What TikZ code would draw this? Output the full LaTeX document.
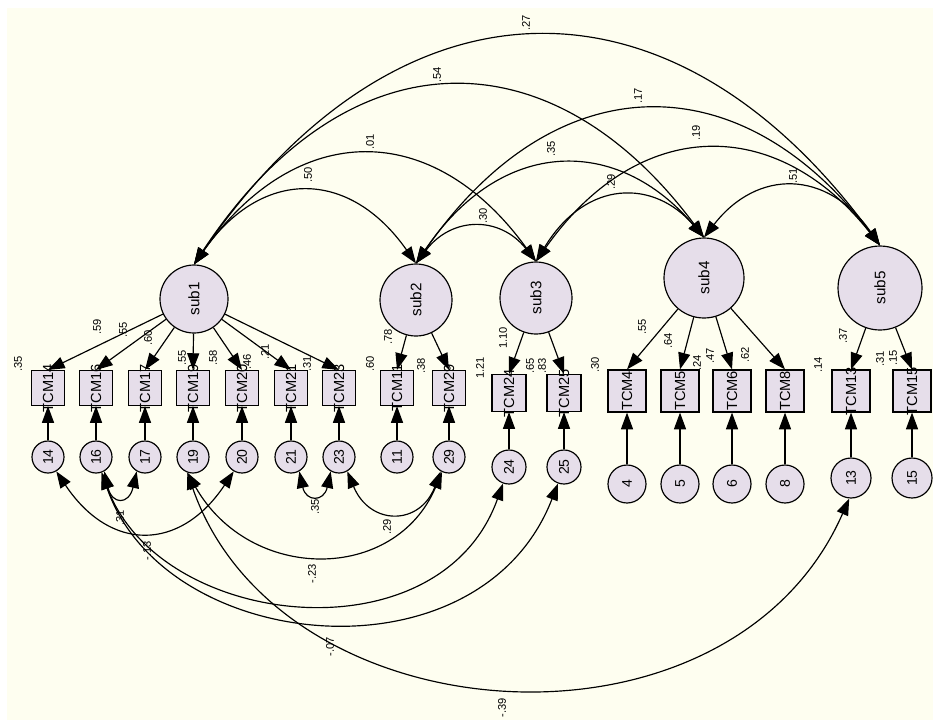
\documentclass[tikz,border=0pt]{standalone}
\usepackage{fontspec}
\setmainfont{Liberation Sans}
\usetikzlibrary{arrows.meta}

\definecolor{paper}{HTML}{FEFEF0}
\definecolor{lilac}{HTML}{E6DEEA}
\newcommand{\up}[1]{\rotatebox{90}{#1}}

\tikzset{
  lat/.style={circle,draw,fill=lilac,inner sep=0pt,font=\fontsize{13}{14}\selectfont},
  err/.style={circle,draw,fill=lilac,inner sep=0pt,minimum size=0.96cm,font=\fontsize{12}{13}\selectfont},
  obs/.style={rectangle,draw,fill=lilac,inner sep=0pt,minimum width=0.99cm,minimum height=1.05cm,font=\fontsize{12.5}{13}\selectfont},
  est/.style={font=\fontsize{9.5}{10}\selectfont,rotate=90,inner sep=0pt},
}

\begin{document}
\begin{tikzpicture}[x=0.03cm,y=-0.03cm,line width=1pt,>={Triangle[length=5mm,width=3.6mm]}]
  \fill[white] (0,0) rectangle (933,720);
  \fill[paper] (7,8) rectangle (933,720);
  \useasboundingbox (0,0) rectangle (933,720);

  % latent variables
  \node[lat,minimum size=2.04cm] (s1) at (194,299) {\up{sub1}};
  \node[lat,minimum size=2.16cm] (s2) at (416,300) {\up{sub2}};
  \node[lat,minimum size=2.16cm] (s3) at (536,298) {\up{sub3}};
  \node[lat,minimum size=2.4cm] (s4) at (704,278) {\up{sub4}};
  \node[lat,minimum size=2.52cm] (s5) at (880,288) {\up{sub5}};

  % observed variables and their errors
  \foreach \i/\x in {14/48,16/96,17/145,19/193,20/242,21/291,23/339,11/397,29/449} {
    \node[obs] (o\i) at (\x,388) {\up{\makebox[0pt]{TCM\i}}};
    \node[err] (e\i) at (\x,457) {\up{\i}};
  }
  \foreach \i/\x in {24/509,25/564} {
    \node[obs,minimum width=1.02cm,minimum height=1.11cm] (o\i) at (\x,393) {\up{\makebox[0pt]{TCM\i}}};
    \node[err,minimum size=1.02cm] (e\i) at (\x,467) {\up{\i}};
  }
  \foreach \i/\x in {4/627,5/680,6/732,8/785} {
    \node[obs,minimum width=1.14cm,minimum height=1.26cm] (o\i) at (\x,391) {\up{\makebox[0pt]{TCM\i}}};
    \node[err,minimum size=1.14cm] (e\i) at (\x,484) {\up{\i}};
  }
  \foreach \i/\x in {13/851,15/912} {
    \node[obs,minimum width=1.14cm,minimum height=1.26cm] (o\i) at (\x,391) {\up{\makebox[0pt]{TCM\i}}};
    \node[err,minimum size=1.2cm] (e\i) at (\x,478) {\up{\i}};
  }

  % loadings
  \foreach \i in {14,16,17,19,20,21,23} \draw[->] (s1) -- (o\i.north);
  \foreach \i in {11,29} \draw[->] (s2) -- (o\i.north);
  \foreach \i in {24,25} \draw[->] (s3) -- (o\i.north);
  \foreach \i in {4,5,6,8} \draw[->] (s4) -- (o\i.north);
  \foreach \i in {13,15} \draw[->] (s5) -- (o\i.north);
  \foreach \i in {14,16,17,19,20,21,23,11,29,24,25,4,5,6,8,13,15}
    \draw[->] (e\i) -- (o\i.south);

  % estimates on loadings and items
  \foreach \v/\x/\y in {.35/18/364, .59/97/327, .55/123/330, .60/148/338, .55/182/358,
      .58/213/358, .46/247/362, .21/265/352, .31/307/364, .60/370/364, .78/388/337,
      .38/421/366, 1.21/480/368, 1.10/503/338, .65/530/366, .83/542/366, .30/595/365,
      .55/642/327, .64/668/341, .24/697/363, .47/710/356, .62/745/355, .14/818/365,
      .37/843/336, .31/880/359, .15/893/358}
    \node[est] at (\x,\y) {\v};

  % covariances between factors
  \draw[<->] (s1.north) .. controls (261,168) and (349,168) .. (s2.north);
  \draw[<->] (s1.north) .. controls (297,119) and (433,119) .. (s3.north);
  \draw[<->] (s1.north) .. controls (347,32) and (551,32) .. (s4.north);
  \draw[<->] (s1.north) .. controls (400,-36) and (674,-36) .. (s5.north);
  \draw[<->] (s2.north) .. controls (452,216) and (500,216) .. (s3.north);
  \draw[<->] (s2.north) .. controls (502,136) and (618,136) .. (s4.north);
  \draw[<->] (s2.north) .. controls (555,62) and (741,62) .. (s5.north);
  \draw[<->] (s3.north) .. controls (586,179) and (654,179) .. (s4.north);
  \draw[<->] (s3.north) .. controls (639,115) and (777,115) .. (s5.north);
  \draw[<->] (s4.north) .. controls (757,169) and (827,169) .. (s5.north);
  \node[est] (c12) at (308,175) {.50};
  \node[est] (c13) at (370,142) {.01};
  \node[est] (c14) at (437,75) {.54};
  \node[est] (c15) at (526,23) {.27};
  \node[est] (c23) at (483,216) {.30};
  \node[est] (c24) at (551,149) {.35};
  \node[est] (c25) at (638,96) {.17};
  \node[est] (c34) at (611,182) {.29};
  \node[est] (c35) at (696,133) {.19};
  \node[est] (c45) at (793,176) {.51};

  % correlated errors
  \draw[<->] (e14.-60) .. controls (110,552) and (180,552) .. (e20.-120);
  \draw[<->] (e16.-60) .. controls (112,505) and (129,505) .. (e17.-120);
  \draw[<->] (e21.-60) .. controls (306,502) and (324,502) .. (e23.-120);
  \draw[<->] (e23.-60) .. controls (370,526) and (420,526) .. (e29.-120);
  \draw[<->] (e19.-110) .. controls (250,583) and (395,583) .. (e29.-115);
  \draw[<->] (e16.-70) .. controls (160,630) and (440,660) .. (e24.-110);
  \draw[<->] (e16.-70) .. controls (165,655) and (480,685) .. (e25.-110);
  \draw[<->] (e19.-110) .. controls (280,740) and (730,770) .. (e13.-95);
  \node[est] (r1617) at (120,518) {.31};
  \node[est] (r1420) at (147,551) {-.13};
  \node[est] (r2123) at (315,507) {.35};
  \node[est] (r2329) at (387,527) {.29};
  \node[est] (r1929) at (312,574) {-.23};
  \node[est] (r1625) at (330,647) {-.07};
  \node[est] (r1913) at (502,708) {-.39};
\end{tikzpicture}
\end{document}
